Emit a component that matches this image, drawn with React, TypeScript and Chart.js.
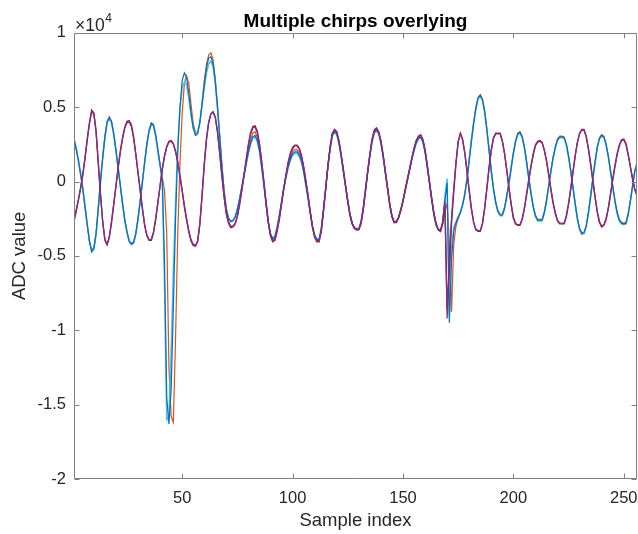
import React, { useEffect, useRef } from "react";
import { Chart, registerables } from "chart.js";

Chart.register(...registerables);

// Sample index 1..256 (x categories)
const sampleIndex: number[] = Array.from({ length: 256 }, (_, i) => i + 1);

// Chirp family A, trace 1 (purple)
const purpleChirp: number[] = [
  -2600, -1900, -1200, -400, 500, 1600, 2800, 3900, 4700, 4500,
  3300, 1200, -900, -2700, -3900, -4200, -3700, -2700, -1500, -300,
  900, 2000, 2900, 3600, 3950, 4000, 3700, 2900, 1800, 600,
  -600, -1800, -2900, -3600, -3900, -3900, -3400, -2500, -1400, -300,
  800, 1700, 2300, 2650, 2700, 2500, 2000, 1300, 400, -600,
  -1600, -2500, -3300, -3900, -4200, -4300, -4000, -2800, -900, 1200,
  2900, 4000, 4550, 4650, 4300, 3300, 1900, 400, -1000, -2100,
  -2700, -3000, -3000, -2800, -2300, -1500, -600, 400, 1400, 2400,
  3200, 3600, 3650, 3300, 2500, 1300, 0, -1400, -2700, -3600,
  -4000, -3900, -3300, -2500, -1500, -500, 400, 1200, 1800, 2200,
  2400, 2400, 2200, 1700, 1000, 100, -900, -2000, -3000, -3700,
  -4000, -4000, -3300, -2000, -500, 1000, 2300, 3200, 3450, 3300,
  2700, 1800, 800, -300, -1300, -2200, -2800, -3100, -3200, -3200,
  -2800, -1900, -700, 600, 1800, 2800, 3400, 3550, 3300, 2700,
  1800, 700, -400, -1500, -2300, -2700, -2700, -2400, -1900, -1300,
  -600, 100, 800, 1500, 2200, 2700, 3000, 3100, 2800, 2100,
  1100, 0, -1100, -2100, -2800, -3200, -3300, -2700, -1300, -9200,
  -5200, -2400, -500, 1300, 2700, 3200, 2800, 1900, 700, -600,
  -1800, -2700, -3200, -3300, -3300, -2800, -1800, -500, 900, 2100,
  2900, 3200, 3200, 3200, 2700, 1900, 800, -400, -1500, -2400,
  -2800, -2900, -2900, -2500, -1800, -900, 100, 1000, 1800, 2400,
  2650, 2700, 2600, 2100, 1400, 500, -500, -1400, -2100, -2600,
  -2800, -2800, -2800, -2300, -1500, -500, 600, 1700, 2600, 3200,
  3450, 3450, 3000, 2200, 1200, 100, -1000, -2000, -2700, -3000,
  -2900, -2500, -1800, -900, 100, 1000, 1800, 2400, 2750, 2800,
  2500, 1800, 1000, 200, -500, -900,
];

// Chirp family A, trace 2 (dark red)
const redChirp: number[] = [
  -2700, -2000, -1250, -450, 450, 1600, 2850, 3950, 4800, 4600,
  3400, 1300, -850, -2700, -3950, -4250, -3750, -2750, -1550, -300,
  950, 2050, 2950, 3650, 4050, 4100, 3800, 3000, 1850, 600,
  -650, -1850, -2950, -3650, -3950, -3950, -3450, -2550, -1400, -250,
  850, 1750, 2350, 2700, 2750, 2550, 2050, 1300, 350, -650,
  -1700, -2600, -3400, -4000, -4300, -4350, -4050, -2900, -1000, 1100,
  2800, 3950, 4550, 4700, 4350, 3350, 1900, 350, -1050, -2200,
  -2800, -3100, -3050, -2850, -2350, -1550, -600, 450, 1500, 2500,
  3300, 3700, 3750, 3400, 2550, 1350, 0, -1450, -2750, -3650,
  -4050, -3950, -3350, -2550, -1500, -450, 450, 1300, 1900, 2300,
  2450, 2450, 2250, 1750, 1000, 50, -950, -2050, -3050, -3750,
  -4050, -4050, -3350, -2000, -450, 1050, 2350, 3250, 3500, 3350,
  2750, 1850, 800, -300, -1350, -2250, -2850, -3150, -3250, -3250,
  -2850, -1900, -650, 650, 1850, 2850, 3450, 3600, 3350, 2750,
  1800, 700, -450, -1550, -2350, -2750, -2750, -2450, -1950, -1300,
  -550, 150, 850, 1550, 2250, 2750, 3050, 3150, 2850, 2150,
  1100, -50, -1150, -2150, -2850, -3250, -3350, -2800, -1500, -8600,
  -6000, -2800, -700, 1200, 2650, 3250, 2850, 1950, 700, -650,
  -1850, -2750, -3250, -3350, -3350, -2850, -1800, -450, 950, 2150,
  2950, 3250, 3250, 3250, 2750, 1900, 750, -450, -1550, -2450,
  -2850, -2950, -2950, -2550, -1800, -850, 150, 1050, 1850, 2450,
  2700, 2750, 2650, 2150, 1400, 450, -550, -1450, -2150, -2650,
  -2850, -2850, -2850, -2350, -1500, -450, 650, 1750, 2650, 3250,
  3500, 3500, 3050, 2200, 1150, 50, -1050, -2050, -2750, -3050,
  -2950, -2550, -1800, -850, 150, 1050, 1850, 2450, 2800, 2850,
  2550, 1850, 1000, 150, -550, -950,
];

// Chirp family B, trace 1 (blue)
const blueChirp: number[] = [
  2860, 2200, 1400, 500, -500, -1700, -2900, -4000, -4700, -4500,
  -3500, -1800, 0, 1600, 3000, 4000, 4300, 4000, 3200, 2100,
  900, -300, -1500, -2600, -3400, -4000, -4200, -4100, -3500, -2500,
  -1300, 0, 1300, 2500, 3400, 3900, 3800, 3100, 2100, 1100,
  100, -5500, -14500, -16300, -14000, -8500, -2500, 2000, 5000, 6800,
  7300, 7000, 5900, 4600, 3600, 3100, 3200, 4000, 5200, 6500,
  7600, 8300, 8400, 7900, 6700, 5000, 3000, 1000, -700, -1900,
  -2500, -2700, -2650, -2400, -1900, -1200, -400, 400, 1200, 2000,
  2600, 3000, 3100, 2800, 2100, 1000, -200, -1500, -2700, -3500,
  -3850, -3700, -3100, -2300, -1400, -500, 300, 1000, 1500, 1850,
  2000, 2000, 1800, 1400, 700, -200, -1100, -2100, -3000, -3600,
  -3900, -3900, -3200, -1900, -500, 1000, 2200, 3100, 3350, 3200,
  2600, 1700, 700, -300, -1300, -2200, -2800, -3100, -3200, -3150,
  -2700, -1800, -600, 600, 1700, 2700, 3300, 3450, 3250, 2600,
  1700, 600, -400, -1500, -2300, -2700, -2650, -2400, -1900, -1300,
  -600, 100, 800, 1500, 2100, 2600, 2900, 3000, 2700, 2000,
  1000, -100, -1200, -2200, -2900, -3200, -3300, -2700, -1300, -100,
  -9500, -5200, -3300, -2800, -2400, -2100, -1600, -900, 100, 1400,
  2700, 3900, 4900, 5600, 5800, 5500, 4700, 3500, 2100, 700,
  -500, -1400, -2000, -2250, -2250, -1800, -1000, -100, 900, 1900,
  2700, 3200, 3300, 3000, 2300, 1300, 200, -800, -1700, -2300,
  -2600, -2600, -2600, -2100, -1300, -300, 700, 1600, 2300, 2800,
  3000, 3000, 2950, 2500, 1700, 700, -400, -1500, -2500, -3200,
  -3500, -3450, -3000, -2100, -1000, 200, 1300, 2300, 2900, 3100,
  3000, 2500, 1700, 700, -300, -1300, -2100, -2600, -2800, -2850,
  -2800, -2200, -1300, -300, 700, 1200,
];

// Chirp family B, trace 2 (light blue)
const lightBlueChirp: number[] = [
  2900, 2250, 1450, 550, -450, -1650, -2850, -3950, -4750, -4550,
  -3550, -1850, -50, 1550, 2950, 3950, 4250, 3950, 3150, 2050,
  850, -350, -1550, -2650, -3450, -4050, -4250, -4150, -3550, -2550,
  -1350, -50, 1250, 2450, 3350, 3850, 3750, 3050, 2050, 1050,
  0, -7000, -16000, -15800, -11500, -6000, -1500, 2500, 4900, 6300,
  6700, 6500, 5600, 4500, 3600, 3200, 3300, 4000, 5100, 6300,
  7300, 7900, 8100, 7700, 6600, 4900, 3000, 1000, -700, -1900,
  -2500, -2650, -2600, -2350, -1850, -1150, -400, 400, 1150, 1900,
  2500, 2900, 3000, 2700, 2000, 950, -250, -1550, -2750, -3550,
  -3850, -3650, -3050, -2250, -1350, -500, 250, 900, 1400, 1750,
  1900, 1900, 1700, 1300, 650, -250, -1150, -2150, -3050, -3650,
  -3850, -3850, -3150, -1850, -450, 1000, 2150, 3050, 3300, 3150,
  2550, 1650, 650, -350, -1350, -2250, -2850, -3150, -3250, -3200,
  -2700, -1750, -550, 650, 1700, 2650, 3250, 3400, 3200, 2550,
  1650, 550, -450, -1550, -2350, -2750, -2700, -2450, -1950, -1350,
  -650, 50, 750, 1450, 2050, 2550, 2850, 2950, 2650, 1950,
  950, -150, -1250, -2250, -2950, -3250, -3350, -2800, -1000, 200,
  -9000, -4600, -3100, -2700, -2350, -2050, -1550, -850, 150, 1450,
  2700, 3850, 4850, 5550, 5750, 5450, 4650, 3450, 2050, 650,
  -550, -1450, -2050, -2300, -2300, -1850, -1050, -150, 850, 1850,
  2650, 3150, 3250, 2950, 2250, 1250, 150, -850, -1750, -2350,
  -2650, -2650, -2650, -2150, -1350, -350, 650, 1550, 2250, 2750,
  2950, 2950, 2900, 2450, 1650, 650, -450, -1550, -2550, -3250,
  -3550, -3500, -3050, -2150, -1050, 150, 1250, 2250, 2850, 3050,
  2950, 2450, 1650, 650, -350, -1350, -2150, -2650, -2850, -2900,
  -2850, -2250, -1350, -350, 650, 1150,
];

// Chirp family B, trace 3 (orange)
const orangeChirp: number[] = [
  2800, 2150, 1350, 450, -550, -1750, -2950, -4050, -4650, -4450,
  -3450, -1750, 50, 1650, 3050, 4050, 4350, 4050, 3250, 2150,
  950, -250, -1450, -2550, -3350, -3950, -4150, -4050, -3450, -2450,
  -1250, 50, 1350, 2550, 3450, 3950, 3850, 3150, 2150, 1150,
  300, -600, -3500, -12500, -15800, -16200, -10500, -3500, 1200, 4600,
  6600, 7100, 6600, 5200, 3900, 3300, 3300, 3900, 5300, 6800,
  7900, 8500, 8650, 8200, 6900, 5100, 3100, 1100, -600, -1800,
  -2450, -2650, -2600, -2350, -1850, -1150, -350, 450, 1250, 2050,
  2800, 3250, 3350, 3000, 2250, 1100, -150, -1500, -2750, -3600,
  -3950, -3800, -3150, -2300, -1400, -450, 350, 1100, 1650, 2000,
  2150, 2150, 1950, 1500, 800, -150, -1100, -2100, -3050, -3650,
  -3950, -3950, -3250, -1900, -450, 1050, 2250, 3150, 3400, 3250,
  2650, 1750, 750, -250, -1250, -2200, -2800, -3150, -3250, -3200,
  -2750, -1800, -550, 650, 1750, 2750, 3350, 3500, 3300, 2650,
  1750, 650, -400, -1500, -2350, -2750, -2700, -2450, -1900, -1300,
  -550, 150, 850, 1550, 2150, 2650, 2950, 3050, 2750, 2050,
  1050, -50, -1150, -2200, -2900, -3250, -3350, -2900, -2000, -1500,
  -4000, -8750, -4200, -3000, -2500, -2100, -1550, -800, 250, 1550,
  2850, 4000, 5000, 5650, 5850, 5550, 4750, 3550, 2150, 750,
  -450, -1350, -1950, -2200, -2200, -1750, -950, -50, 950, 1950,
  2750, 3250, 3350, 3050, 2350, 1350, 250, -750, -1650, -2250,
  -2550, -2550, -2550, -2050, -1250, -250, 750, 1650, 2350, 2850,
  3050, 3050, 3000, 2550, 1750, 750, -350, -1450, -2450, -3150,
  -3450, -3400, -2950, -2050, -950, 250, 1350, 2350, 2950, 3150,
  3050, 2550, 1750, 750, -250, -1250, -2050, -2550, -2750, -2800,
  -2750, -2150, -1250, -250, 750, 1250,
];

const xTickValues: number[] = [50, 100, 150, 200, 250];
const yTickValues: number[] = [-20000, -15000, -10000, -5000, 0, 5000, 10000];
const yTickLabels: string[] = ["-2", "-1.5", "-1", "-0.5", "0", "0.5", "1"];

const FONT = '"Liberation Sans", Arial, Helvetica, sans-serif';

const toPoints = (arr: number[]) => arr.map((v, i) => ({ x: sampleIndex[i], y: v }));

const matlabFrame = {
  id: "matlabFrame",
  afterDraw(chart: any) {
    const { ctx, chartArea: a, scales } = chart;
    ctx.save();
    ctx.strokeStyle = "#7f7f7f";
    ctx.lineWidth = 1;
    const L = Math.round(a.left) + 0.5;
    const R = Math.round(a.right) - 0.5;
    const T = Math.round(a.top) + 0.5;
    const B = Math.round(a.bottom) - 0.5;
    ctx.beginPath();
    ctx.moveTo(L, T);
    ctx.lineTo(R, T);
    ctx.lineTo(R, B);
    ctx.lineTo(L, B);
    ctx.closePath();
    const tk = 5;
    xTickValues.forEach((v) => {
      const px = Math.round(scales.x.getPixelForValue(v)) + 0.5;
      ctx.moveTo(px, B);
      ctx.lineTo(px, B - tk);
      ctx.moveTo(px, T);
      ctx.lineTo(px, T + tk);
    });
    yTickValues.forEach((v) => {
      const py = Math.round(scales.y.getPixelForValue(v)) + 0.5;
      ctx.moveTo(L, py);
      ctx.lineTo(L + tk, py);
      ctx.moveTo(R, py);
      ctx.lineTo(R - tk, py);
    });
    ctx.stroke();

    // exponent label
    ctx.fillStyle = "#262626";
    ctx.textBaseline = "alphabetic";
    ctx.textAlign = "left";
    ctx.font = `17.5px ${FONT}`;
    const baseX = a.left + 1;
    const baseY = a.top - 2;
    ctx.fillText("\u00d710", baseX, baseY);
    const w = ctx.measureText("\u00d710").width;
    ctx.font = `12px ${FONT}`;
    ctx.fillText("4", baseX + w + 0.5, baseY - 9);
    ctx.restore();
  },
};

const lineStyle = (label: string, data: number[], color: string, width: number) => ({
  label,
  data: toPoints(data),
  borderColor: color,
  borderWidth: width,
  pointRadius: 0,
  tension: 0,
  fill: false,
});

export default function App() {
  const ref = useRef<HTMLCanvasElement | null>(null);

  useEffect(() => {
    document.body.style.margin = "0";
    const canvas = ref.current;
    if (!canvas) return;
    const chart = new Chart(canvas, {
      type: "line",
      data: {
        // first dataset is drawn on top
        datasets: [
          lineStyle("Chirp 3", purpleChirp, "#7E2F8E", 1.3),
          lineStyle("Chirp 4", redChirp, "#A2142F", 1.4),
          lineStyle("Chirp 1", blueChirp, "#0072BD", 1.2),
          lineStyle("Chirp 5", lightBlueChirp, "#4DBEEE", 1.5),
          lineStyle("Chirp 2", orangeChirp, "#D95319", 1.2),
        ],
      },
      options: {
        responsive: false,
        animation: false,
        devicePixelRatio: 1,
        layout: { padding: { left: 0, right: 1, top: 0, bottom: 0 } },
        plugins: {
          legend: { display: false },
          tooltip: { enabled: false },
          title: {
            display: true,
            text: "Multiple chirps overlying",
            color: "#000000",
            font: { family: FONT, size: 19, weight: "bold" },
            padding: { top: 10, bottom: 0 },
            fullSize: false,
          },
        },
        scales: {
          x: {
            type: "linear",
            min: 1,
            max: 256,
            grid: { display: false, drawTicks: false, tickLength: 0 },
            border: { display: false },
            afterBuildTicks: (scale: any) => {
              scale.ticks = xTickValues.map((v) => ({ value: v }));
            },
            afterFit: (scale: any) => {
              scale.height = 55;
              scale.paddingLeft = 0;
              scale.paddingRight = 0;
            },
            ticks: {
              color: "#262626",
              font: { family: FONT, size: 16.5 },
              padding: 10,
              maxRotation: 0,
              autoSkip: false,
              callback: (v: any) => String(v),
            },
            title: {
              display: true,
              text: "Sample index",
              color: "#262626",
              font: { family: FONT, size: 18.5 },
              padding: { top: 0, bottom: 2 },
            },
          },
          y: {
            type: "linear",
            min: -20000,
            max: 10000,
            grid: { display: false, drawTicks: false, tickLength: 0 },
            border: { display: false },
            afterBuildTicks: (scale: any) => {
              scale.ticks = yTickValues.map((v) => ({ value: v }));
            },
            afterFit: (scale: any) => {
              scale.width = 74;
              scale.paddingTop = 0;
              scale.paddingBottom = 0;
            },
            ticks: {
              color: "#262626",
              font: { family: FONT, size: 16.5 },
              padding: 8,
              autoSkip: false,
              callback: (_v: any, i: number) => yTickLabels[i],
            },
            title: {
              display: true,
              text: "ADC value",
              color: "#262626",
              font: { family: FONT, size: 18.5 },
              padding: { top: 9, bottom: 0 },
            },
          },
        },
      },
      plugins: [matlabFrame],
    });
    return () => chart.destroy();
  }, []);

  return (
    <div style={{ width: 638, height: 534 }}>
      <canvas ref={ref} width={638} height={534} style={{ width: 638, height: 534, display: "block" }} />
    </div>
  );
}
